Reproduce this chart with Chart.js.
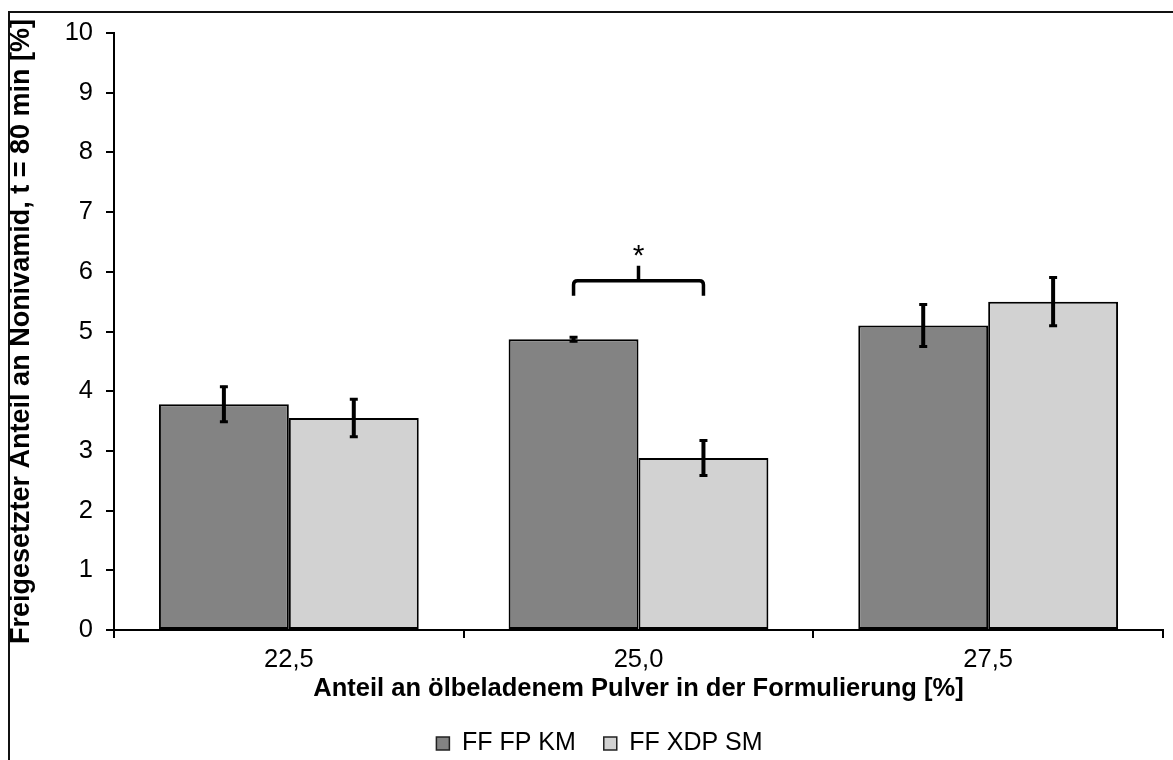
<!DOCTYPE html>
<html>
<head>
<meta charset="utf-8">
<script src="https://cdn.jsdelivr.net/npm/chart.js@4.4.1/dist/chart.umd.min.js"></script>
<style>
  html, body { margin: 0; padding: 0; background: #fff; }
  #wrap { position: relative; width: 1173px; height: 760px; overflow: hidden; }
  #frame { position: absolute; left: 8px; top: 11px; right: -10px; bottom: -10px;
           border-left: 2px solid #111; border-top: 2px solid #111; pointer-events: none; }
</style>
</head>
<body>
<div id="wrap">
  <canvas id="chart" width="1173" height="760"></canvas>
  <div id="frame"></div>
</div>
<script>
const categories = ['22,5', '25,0', '27,5']
const seriesNames = ['FF FP KM', 'FF XDP SM']
const fpKmValues = [3.78, 4.87, 5.10]
const fpKmErrors = [0.31, 0.05, 0.37]
const xdpSmValues = [3.55, 2.88, 5.50]
const xdpSmErrors = [0.33, 0.31, 0.42]
const yTicks = [0, 1, 2, 3, 4, 5, 6, 7, 8, 9, 10]

// significance bracket between both bars at 25,0
const bracket = { category: 1, level: 5.85, drop: 5.6, tip: 6.1, label: '*' }

const FONT = "'Liberation Sans', Arial, sans-serif"

const errorBars = {
    id: 'errorBars',
    afterDatasetsDraw(chart) {
        const { ctx, scales: { y } } = chart
        ctx.save()
        ctx.strokeStyle = '#000'
        chart.data.datasets.forEach((ds, i) => {
            const meta = chart.getDatasetMeta(i)
            meta.data.forEach((bar, j) => {
                const v = ds.data[j], e = ds.errors[j]
                const top = y.getPixelForValue(v + e)
                const bottom = y.getPixelForValue(v - e)
                ctx.lineWidth = 4
                ctx.beginPath()
                ctx.moveTo(bar.x, top)
                ctx.lineTo(bar.x, bottom)
                ctx.stroke()
                ctx.lineWidth = 3
                ctx.beginPath()
                ctx.moveTo(bar.x - 4, top + 1)
                ctx.lineTo(bar.x + 4, top + 1)
                ctx.moveTo(bar.x - 4, bottom - 1)
                ctx.lineTo(bar.x + 4, bottom - 1)
                ctx.stroke()
            })
        })
        ctx.restore()
    }
}

const significance = {
    id: 'significance',
    afterDatasetsDraw(chart) {
        const { ctx, scales: { y } } = chart
        const x1 = chart.getDatasetMeta(0).data[bracket.category].x
        const x2 = chart.getDatasetMeta(1).data[bracket.category].x
        const xm = (x1 + x2) / 2
        const yl = y.getPixelForValue(bracket.level)
        const yd = y.getPixelForValue(bracket.drop)
        const yt = y.getPixelForValue(bracket.tip)
        ctx.save()
        ctx.strokeStyle = '#000'
        ctx.lineWidth = 3.5
        ctx.lineJoin = 'round'
        ctx.beginPath()
        ctx.moveTo(x1, yd)
        ctx.lineTo(x1, yl + 4)
        ctx.quadraticCurveTo(x1, yl, x1 + 4, yl)
        ctx.lineTo(x2 - 4, yl)
        ctx.quadraticCurveTo(x2, yl, x2, yl + 4)
        ctx.lineTo(x2, yd)
        ctx.moveTo(xm, yl)
        ctx.lineTo(xm, yt)
        ctx.stroke()
        ctx.fillStyle = '#000'
        ctx.font = `30px ${FONT}`
        ctx.textAlign = 'center'
        ctx.textBaseline = 'middle'
        ctx.fillText(bracket.label, xm, yt - 9)
        ctx.restore()
    }
}

new Chart(document.getElementById('chart'), {
    type: 'bar',
    data: {
        labels: categories,
        datasets: [
            { label: seriesNames[0], data: fpKmValues, errors: fpKmErrors,
              backgroundColor: '#838383', borderColor: '#000', borderWidth: 2, borderSkipped: false },
            { label: seriesNames[1], data: xdpSmValues, errors: xdpSmErrors,
              backgroundColor: '#d2d2d2', borderColor: '#000', borderWidth: 2, borderSkipped: false },
        ]
    },
    options: {
        responsive: false,
        animation: false,
        devicePixelRatio: 1,
        categoryPercentage: 0.743,
        barPercentage: 1,
        layout: { padding: { top: 33, right: 10, left: 36, bottom: -6 } },
        plugins: {
            tooltip: { enabled: false },
            legend: {
                position: 'bottom',
                labels: {
                    color: '#000', font: { family: FONT, size: 25 },
                    boxWidth: 13, boxHeight: 13, padding: 28,
                    generateLabels: chart => chart.data.datasets.map((ds, i) => ({
                        text: ds.label, fillStyle: ds.backgroundColor, strokeStyle: '#222',
                        lineWidth: 1.5, datasetIndex: i, fontColor: '#000'
                    }))
                }
            }
        },
        scales: {
            x: {
                afterFit: scale => { scale.height = 73 },
                grid: { drawOnChartArea: false, drawTicks: true, tickLength: 8, color: '#000', lineWidth: 2, offset: true },
                border: { color: '#000', width: 2 },
                ticks: { color: '#000', font: { family: FONT, size: 25.5 }, padding: 7 },
                title: { display: true, text: 'Anteil an ölbeladenem Pulver in der Formulierung [%]',
                         color: '#000', font: { family: FONT, size: 25.5, weight: 'bold', lineHeight: 1 }, padding: { bottom: 1 } }
            },
            y: {
                min: 0, max: 10,
                afterFit: scale => { scale.width = 78 },
                afterBuildTicks: scale => { scale.ticks = yTicks.map(v => ({ value: v })) },
                grid: { drawOnChartArea: false, drawTicks: true, tickLength: 8, color: '#000', lineWidth: 2 },
                border: { color: '#000', width: 2 },
                ticks: { color: '#000', font: { family: FONT, size: 25.5 }, padding: 13 },
                title: { display: true, text: 'Freigesetzter Anteil an Nonivamid, t = 80 min [%]',
                         color: '#000', font: { family: FONT, size: 27, weight: 'bold', lineHeight: 1 }, padding: { top: -27.5 } }
            }
        }
    },
    plugins: [errorBars, significance]
})
</script>
</body>
</html>
